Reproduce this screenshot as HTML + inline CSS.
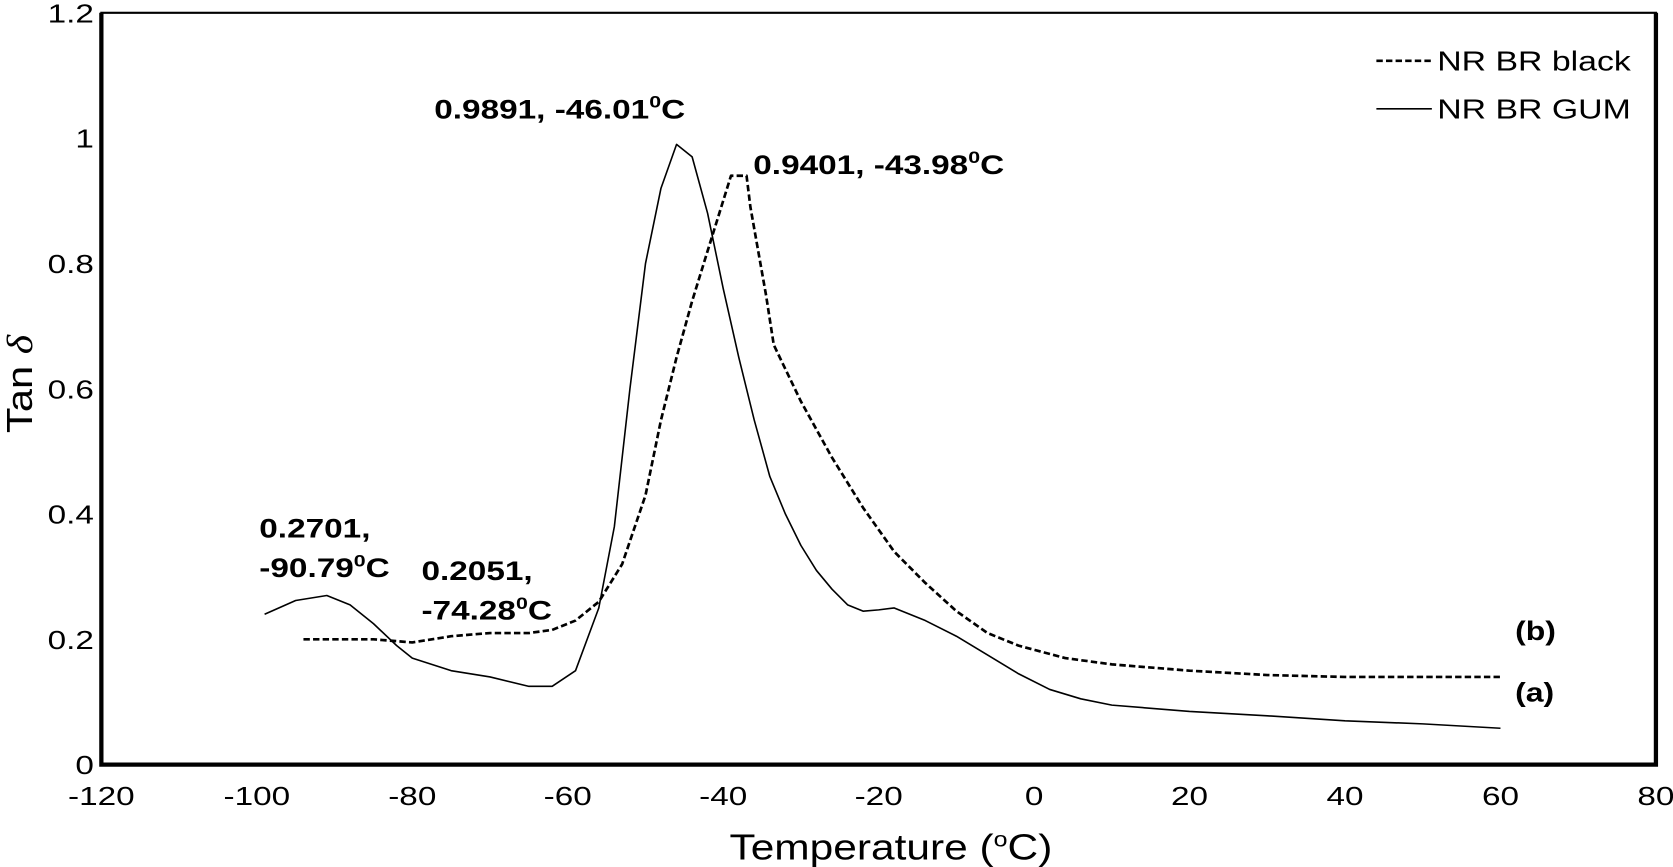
<!DOCTYPE html>
<html><head><meta charset="utf-8"><style>
html,body{margin:0;padding:0;background:#fff;}
svg{display:block;font-family:"Liberation Sans",sans-serif;}
</style></head><body>
<svg width="1673" height="867" viewBox="0 0 1568 813" preserveAspectRatio="none">
<g id="plot"></g>
<script>
const xTicks=[-120,-100,-80,-60,-40,-20,0,20,40,60,80];
const yTicks=[0,0.2,0.4,0.6,0.8,1,1.2];
const yTickLabels=["0","0.2","0.4","0.6","0.8","1","1.2"];
const gumX=[-99,-95,-91,-88,-85,-82,-80,-75,-70,-65,-62,-59,-56,-54,-52,-50,-48,-46,-44,-42,-40,-38,-36,-34,-32,-30,-28,-26,-24,-22,-20,-18,-14,-10,-6,-2,2,6,10,20,30,40,50,60];
const gumY=[0.24,0.262,0.27,0.255,0.225,0.19,0.17,0.15,0.14,0.125,0.125,0.15,0.25,0.38,0.6,0.8,0.92,0.99,0.97,0.88,0.76,0.65,0.55,0.46,0.40,0.35,0.31,0.28,0.255,0.245,0.247,0.25,0.23,0.205,0.175,0.145,0.12,0.105,0.095,0.085,0.078,0.07,0.065,0.058];
const blackX=[-94,-85,-80,-75,-70,-65,-62,-59,-56,-53,-50,-48,-46,-44,-42,-40,-39,-37,-36.5,-35.5,-34.5,-33.5,-30,-26,-22,-18,-14,-10,-6,-2,4,10,20,30,40,50,60];
const blackY=[0.2,0.2,0.195,0.205,0.21,0.21,0.215,0.23,0.26,0.32,0.43,0.55,0.65,0.74,0.82,0.9,0.94,0.94,0.89,0.82,0.75,0.67,0.58,0.49,0.41,0.34,0.29,0.245,0.21,0.19,0.17,0.16,0.15,0.143,0.14,0.14,0.14];
const L=95,R=1552,T=12,B=717;
const sx=v=>L+(v+120)/200*(R-L);
const sy=v=>B-v/1.2*(B-T);
const NS="http://www.w3.org/2000/svg";
const g=document.getElementById('plot');
function mk(tag,attrs,txt){const e=document.createElementNS(NS,tag);for(const k in attrs)e.setAttribute(k,attrs[k]);if(txt!==undefined)e.textContent=txt;g.appendChild(e);return e;}
let e;
e=mk('rect',{x:L,y:T,width:R-L,height:B-T,fill:'none',stroke:'#000','stroke-width':2});


e=mk('path',{d:`M${L},${T} L${L},${B} L${R},${B} L${R},${T}`,fill:'none',stroke:'#000','stroke-width':4});


xTicks.forEach(v=>{e=mk('text',{x:0,y:0,'font-size':24,'text-anchor':'middle',transform:`translate(${sx(v)},755) scale(1.3,1)`},String(v));

});
yTicks.forEach((v,i)=>{e=mk('text',{x:0,y:0,'font-size':24,'text-anchor':'end',transform:`translate(88,${sy(v)+9}) scale(1.3,1)`},yTickLabels[i]);

});
function line(xs,ys,dash,name){const d=xs.map((x,i)=>(i?'L':'M')+sx(x).toFixed(1)+','+sy(ys[i]).toFixed(1)).join(' ');
e=mk('path',{d:d,fill:'none',stroke:'#000','stroke-width':dash?2.5:1.5,'stroke-dasharray':dash?'6,3':'none','stroke-linejoin':'round'});

}
line(gumX,gumY,false,'series-nr-br-gum');
line(blackX,blackY,true,'series-nr-br-black');
</script>
<text x="0" y="0" transform="translate(835,806) scale(1.17,1)" font-size="34" text-anchor="middle">Temperature (<tspan font-size="20" dy="-12">o</tspan><tspan dy="12">C)</tspan></text>
<text transform="translate(30,360) rotate(-90) scale(1.15,1)" font-size="34" text-anchor="middle">Tan <tspan font-family="Liberation Serif" font-style="italic">δ</tspan></text>
<g>
<line x1="1290" y1="57" x2="1342" y2="57" stroke="#000" stroke-width="2.5" stroke-dasharray="6,3"/>
<text x="0" y="0" transform="translate(1347,66) scale(1.22,1)" font-size="26">NR BR black</text>
<line x1="1290" y1="102" x2="1342" y2="102" stroke="#000" stroke-width="1.5"/>
<text x="0" y="0" transform="translate(1347,111) scale(1.22,1)" font-size="26">NR BR GUM</text>
</g>
<g font-weight="bold" font-size="25">
<text x="0" y="0" transform="translate(407,111) scale(1.25,1)">0.9891, -46.01<tspan font-size="16" dy="-10">0</tspan><tspan dy="10">C</tspan></text>
<text x="0" y="0" transform="translate(706,163) scale(1.25,1)">0.9401, -43.98<tspan font-size="16" dy="-10">0</tspan><tspan dy="10">C</tspan></text>
<text x="0" y="0" transform="translate(243,504) scale(1.25,1)">0.2701,</text>
<text x="0" y="0" transform="translate(243,541) scale(1.25,1)">-90.79<tspan font-size="16" dy="-10">0</tspan><tspan dy="10">C</tspan></text>
<text x="0" y="0" transform="translate(395,544) scale(1.25,1)">0.2051,</text>
<text x="0" y="0" transform="translate(395,581) scale(1.25,1)">-74.28<tspan font-size="16" dy="-10">0</tspan><tspan dy="10">C</tspan></text>
<text x="0" y="0" transform="translate(1420,600) scale(1.2,1)">(b)</text>
<text x="0" y="0" transform="translate(1420,658) scale(1.2,1)">(a)</text>
</g>
</svg>
</body></html>
